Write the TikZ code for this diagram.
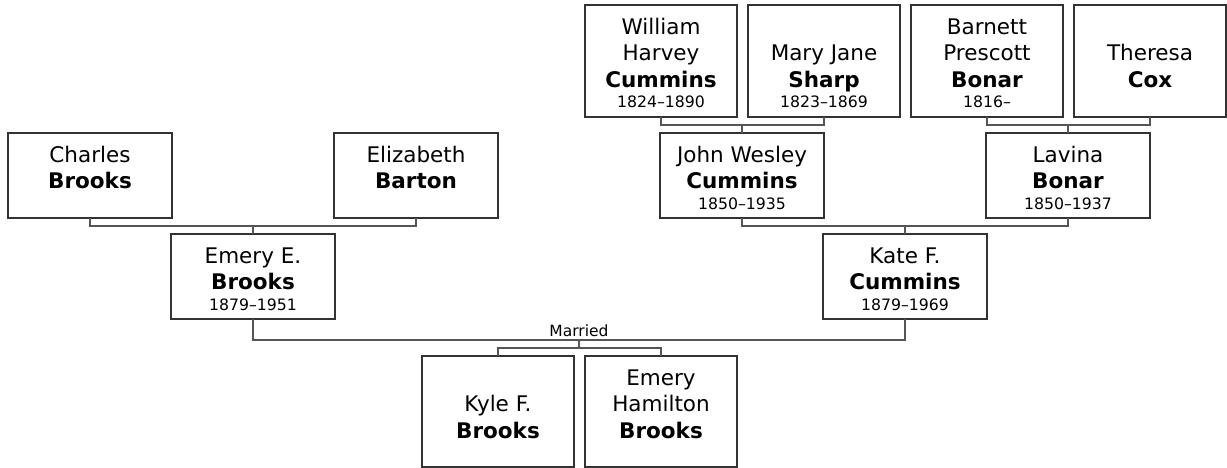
\documentclass[tikz,border=0pt]{standalone}
\usepackage{fontspec}
\setmainfont{DejaVu Sans}
\usetikzlibrary{calc}
\definecolor{boxline}{HTML}{333333}
\definecolor{connline}{HTML}{555555}
\newcommand\namefont{\fontsize{21.5}{26}\selectfont}
\newcommand\datefont{\fontsize{15.7}{20}\selectfont}
\newcommand\nm[1]{\hbox to\hsize{\hss\smash{\namefont #1}\hss}\kern26.3pt}
\newcommand\sn[1]{\hbox to\hsize{\hss\smash{\namefont\bfseries #1}\hss}\kern20.5pt}
\newcommand\dt[1]{\hbox to\hsize{\hss\smash{\datefont #1}\hss}}
\newcommand\skipline{\kern26.3pt}
\newcommand\pbody[3]{\vbox to #2pt{\hsize=#1pt\offinterlineskip\kern29.5pt #3\vss}}
\tikzset{
  person/.style={draw=boxline, line width=1.8pt, fill=white, inner sep=0pt, outer sep=0pt, rectangle},
  conn/.style={draw=connline, line width=1.6pt},
}
\begin{document}
\begin{tikzpicture}[x=1pt,y=-1pt]
\useasboundingbox[fill=white] (0,0) rectangle (1227,468);
% generation 3
\node[person] (charles) at (90,175.5) {\pbody{164}{85}{\nm{Charles}\sn{Brooks}}};
\node[person] (elizabeth) at (416,175.5) {\pbody{164}{85}{\nm{Elizabeth}\sn{Barton}}};
\node[person] (william) at (661,61) {\pbody{152}{112}{\nm{William}\nm{Harvey}\sn{Cummins}\dt{1824–1890}}};
\node[person] (mary) at (824,61) {\pbody{152}{112}{\skipline\nm{Mary Jane}\sn{Sharp}\dt{1823–1869}}};
\node[person] (barnett) at (987,61) {\pbody{152}{112}{\nm{Barnett}\nm{Prescott}\sn{Bonar}\dt{1816–}}};
\node[person] (theresa) at (1150,61) {\pbody{152}{112}{\skipline\nm{Theresa}\sn{Cox}}};
% generation 2
\node[person] (john) at (742,175.5) {\pbody{164}{85}{\nm{John Wesley}\sn{Cummins}\dt{1850–1935}}};
\node[person] (lavina) at (1068,175.5) {\pbody{164}{85}{\nm{Lavina}\sn{Bonar}\dt{1850–1937}}};
% generation 1
\node[person] (emery) at (253,276.5) {\pbody{164}{85}{\nm{Emery E.}\sn{Brooks}\dt{1879–1951}}};
\node[person] (kate) at (905,276.5) {\pbody{164}{85}{\nm{Kate F.}\sn{Cummins}\dt{1879–1969}}};
% children
\node[person] (kyle) at (498,411.5) {\pbody{152}{111}{\skipline\nm{Kyle F.}\sn{Brooks}}};
\node[person] (emeryh) at (661,411.5) {\pbody{152}{111}{\nm{Emery}\nm{Hamilton}\sn{Brooks}}};
% connectors
\draw[conn] (charles.south) -- ++(0,8) -| (elizabeth.south);
\draw[conn] (emery.north) -- ++(0,-8);
\draw[conn] (william.south) -- ++(0,8) -| (mary.south);
\draw[conn] (john.north) -- ++(0,-8);
\draw[conn] (barnett.south) -- ++(0,8) -| (theresa.south);
\draw[conn] (lavina.north) -- ++(0,-8);
\draw[conn] (john.south) -- ++(0,8) -| (lavina.south);
\draw[conn] (kate.north) -- ++(0,-8);
\draw[conn] (emery.south) -- ++(0,21) coordinate (ml) -| (kate.south);
\coordinate (mid) at ($(ml)!0.5!(ml -| kate.south)$);
\node[anchor=base, font=\fontsize{15.5}{18}\selectfont, inner sep=0pt] (married) at ($(mid)+(0,-4)$) {Married};
\draw[conn] (mid) -- ++(0,8) coordinate (cb);
\draw[conn] (kyle.north) |- (cb) -| (emeryh.north);
\end{tikzpicture}
\end{document}
